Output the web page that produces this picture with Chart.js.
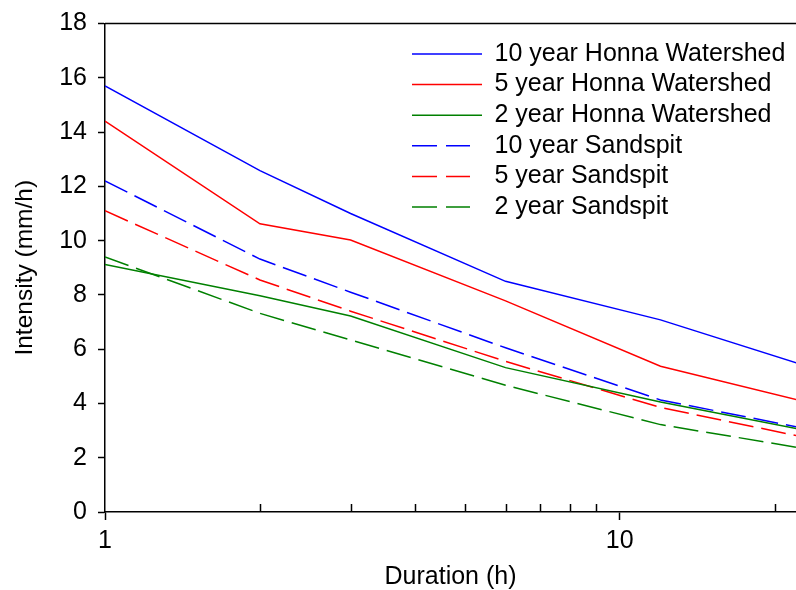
<!DOCTYPE html>
<html>
<head>
<meta charset="utf-8">
<script src="https://cdn.jsdelivr.net/npm/chart.js@4.4.0/dist/chart.umd.min.js"></script>
<style>
  html, body { margin: 0; padding: 0; background: #fff; }
  canvas { display: block; }
</style>
</head>
<body>
<canvas id="chart" width="796" height="590"></canvas>
<script>
// durations (h) and intensities (mm/h)
const durations = [1, 2, 3, 6, 12, 24];
const honna10 = [15.7, 12.58, 11.0, 8.5, 7.08, 5.27];
const honna5 = [14.4, 10.62, 10.02, 7.78, 5.37, 3.97];
const honna2 = [9.12, 7.97, 7.22, 5.32, 4.05, 2.94];
const sand10 = [12.2, 9.32, 8.1, 6.05, 4.13, 3.0];
const sand5 = [11.1, 8.55, 7.4, 5.55, 3.85, 2.67];
const sand2 = [9.4, 7.32, 6.34, 4.67, 3.22, 2.27];
const seriesLabels = [
  "10 year Honna Watershed", "5 year Honna Watershed", "2 year Honna Watershed",
  "10 year Sandspit", "5 year Sandspit", "2 year Sandspit"
];
const xMajor = [1, 10];
const xMinor = [2, 3, 4, 5, 6, 7, 8, 9, 20];
const yTicks = [0, 2, 4, 6, 8, 10, 12, 14, 16, 18];

Chart.defaults.font.family = "'Liberation Sans', Arial, sans-serif";
Chart.defaults.color = "#000";

const DASH = [25, 8];

function pts(vals) {
  return durations.map((d, i) => ({ x: d, y: vals[i] }));
}
function line(label, vals, color, dashed) {
  return {
    label, data: pts(vals),
    borderColor: color, backgroundColor: color,
    borderWidth: 1.5, borderDash: dashed ? DASH : [],
    pointRadius: 0, tension: 0, fill: false
  };
}

const frame = {
  id: "frame",
  afterUpdate(chart) {
    // park the legend in the upper right of the plot
    const lg = chart.legend;
    const pad = lg.options.labels.padding;
    const w = lg.width, h = lg.height;
    lg.left = 412 - pad;
    lg.top = 41.5 - pad;
    lg.right = lg.left + w;
    lg.bottom = lg.top + h;
  },
  afterDraw(chart) {
    const { ctx, chartArea: a, scales: { x } } = chart;
    ctx.save();
    ctx.strokeStyle = "#000";
    ctx.lineWidth = 1.5;
    ctx.beginPath();
    ctx.moveTo(a.left, a.top);
    ctx.lineTo(a.right, a.top);
    xMinor.forEach(v => {
      const px = Math.round(x.getPixelForValue(v)) + 0.5;
      ctx.moveTo(px, a.bottom);
      ctx.lineTo(px, a.bottom - 8);
    });
    ctx.stroke();
    ctx.restore();
  }
};

new Chart(document.getElementById("chart"), {
  type: "line",
  data: {
    datasets: [
      line(seriesLabels[0], honna10, "#0000ff", false),
      line(seriesLabels[1], honna5, "#ff0000", false),
      line(seriesLabels[2], honna2, "#008000", false),
      line(seriesLabels[3], sand10, "#0000ff", true),
      line(seriesLabels[4], sand5, "#ff0000", true),
      line(seriesLabels[5], sand2, "#008000", true)
    ]
  },
  options: {
    responsive: false,
    animation: false,
    devicePixelRatio: 1,
    layout: { padding: { top: 13, right: 0, left: 0, bottom: 0 } },
    plugins: {
      tooltip: { enabled: false },
      legend: {
        position: "chartArea",
        align: "start",
        labels: {
          font: { size: 25 },
          color: "#000",
          usePointStyle: true,
          pointStyle: "line",
          boxWidth: 70,
          boxHeight: 25,
          pointStyleWidth: 70,
          padding: 5.6,
          generateLabels(chart) {
            const items = Chart.defaults.plugins.legend.labels.generateLabels(chart);
            items.forEach(it => {
              const ds = chart.data.datasets[it.datasetIndex];
              it.pointStyle = "line";
              it.lineWidth = 1.5;
              it.strokeStyle = ds.borderColor;
              it.lineDash = ds.borderDash.length ? [25, 9, 24, 40] : [];
            });
            return items;
          }
        }
      }
    },
    scales: {
      x: {
        type: "logarithmic",
        min: 1,
        max: 22,
        afterBuildTicks: s => { s.ticks = xMajor.map(v => ({ value: v })); },
        afterFit: s => { s.height = 78; },
        ticks: {
          callback: v => String(v),
          autoSkip: false, maxRotation: 0,
          font: { size: 25 }, padding: 6
        },
        grid: { drawOnChartArea: false, tickLength: 8, tickColor: "#000", tickWidth: 1.5 },
        border: { color: "#000", width: 1.5 },
        title: {
          display: true, text: "Duration (h)",
          font: { size: 25, lineHeight: 1 }, padding: { top: 0, bottom: 0 }
        }
      },
      y: {
        min: 0,
        max: 18,
        afterBuildTicks: s => { s.ticks = yTicks.map(v => ({ value: v })); },
        afterFit: s => { s.width = 105; },
        ticks: { font: { size: 25, lineHeight: 1 }, padding: 11 },
        grid: { drawOnChartArea: false, tickLength: 7, tickColor: "#000", tickWidth: 1.5 },
        border: { color: "#000", width: 1.5 },
        title: {
          display: true, text: "Intensity (mm/h)",
          font: { size: 24.5, lineHeight: 1 }, padding: { top: 13, bottom: 0 }
        }
      }
    }
  },
  plugins: [frame]
});
</script>
</body>
</html>
